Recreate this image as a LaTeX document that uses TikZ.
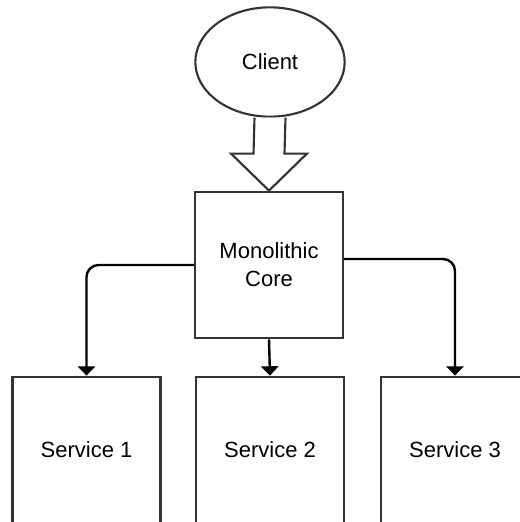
\documentclass[tikz,border=0pt]{standalone}
\usepackage{fontspec}
\setmainfont{Liberation Sans}
\usetikzlibrary{arrows.meta,calc,shapes.geometric}
\tikzset{
    box/.style={draw=black!80, line width=1.6pt, minimum width=111pt, minimum height=110pt, align=center, font=\fontsize{16.5}{21}\selectfont},
    conn/.style={draw=black, line width=1.8pt, rounded corners=9pt, -{Triangle[width=13pt,length=7pt]}}
}
\begin{document}
    \begin{tikzpicture}[x=0.75pt, y=-0.75pt]
        \useasboundingbox (0,0) rectangle (520,522);
        \node[draw=black!80, line width=1.6pt, ellipse, minimum width=112pt, minimum height=82pt, inner sep=0pt, font=\fontsize{16.5}{21}\selectfont] (client) at (270,62) {Client};
        \node[box] (core) at (269,265) {Monolithic\\Core};
        \node[box] (s1) at (86.5,450) {Service 1};
        \node[box] (s2) at (270,450) {Service 2};
        \node[box] (s3) at (455,450) {Service 3};
        % block arrow from client down to the core
        \draw[black!80, line width=1.6pt, fill=white] ($(client.south)+(-15.5,0)$) -- ($(core.north)+(-15.5,-37)$) -- ($(core.north)+(-38,-37)$) -- (core.north)
            -- ($(core.north)+(38,-37)$) -- ($(core.north)+(15.5,-37)$) -- ($(client.south)+(15.5,0)$);
        \draw[conn] (core.west) -| (s1.north);
        \draw[conn] ($(core.east)+(0,-6)$) -| (s3.north);
        \draw[conn] (core.south) -- (s2.north);
    \end{tikzpicture}
\end{document}
